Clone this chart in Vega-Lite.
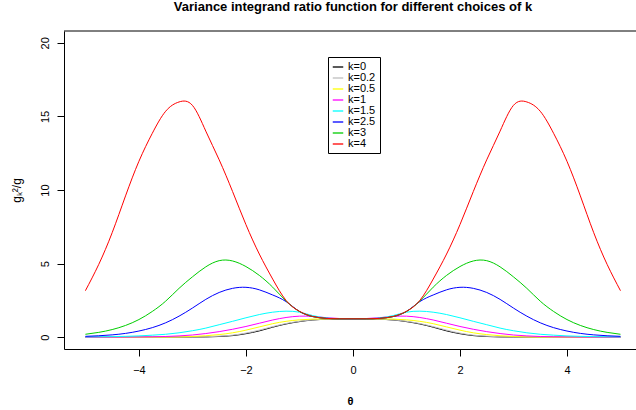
{
"$schema": "https://vega.github.io/schema/vega-lite/v6.json",
"width": 572, "height": 318,
"autosize": {"type": "none"},
"padding": {"left": 64, "top": 31, "right": 0, "bottom": 61},
"background": "white",
"config": {"font": "Liberation Sans", "view": {"stroke": null}},
"title": {"text": "Variance integrand ratio function for different choices of k", "fontSize": 13, "fontWeight": "bold", "anchor": "middle", "offset": 17, "dx": 3, "color": "black"},
"datasets": {"curves": [
{"k":"k=0","t":-5,"v":0},{"k":"k=0","t":-4.75,"v":0},{"k":"k=0","t":-4.5,"v":0},{"k":"k=0","t":-4.25,"v":0},{"k":"k=0","t":-4,"v":0},{"k":"k=0","t":-3.75,"v":0},{"k":"k=0","t":-3.5,"v":0},{"k":"k=0","t":-3.25,"v":0.003},{"k":"k=0","t":-3,"v":0.01},{"k":"k=0","t":-2.75,"v":0.02},{"k":"k=0","t":-2.5,"v":0.05},{"k":"k=0","t":-2.25,"v":0.11},{"k":"k=0","t":-2,"v":0.24},{"k":"k=0","t":-1.75,"v":0.43},{"k":"k=0","t":-1.5,"v":0.68},{"k":"k=0","t":-1.25,"v":0.9},{"k":"k=0","t":-1,"v":1.06},{"k":"k=0","t":-0.75,"v":1.17},{"k":"k=0","t":-0.5,"v":1.22},{"k":"k=0","t":-0.25,"v":1.245},{"k":"k=0","t":0,"v":1.25},{"k":"k=0","t":0.25,"v":1.245},{"k":"k=0","t":0.5,"v":1.22},{"k":"k=0","t":0.75,"v":1.17},{"k":"k=0","t":1,"v":1.06},{"k":"k=0","t":1.25,"v":0.9},{"k":"k=0","t":1.5,"v":0.68},{"k":"k=0","t":1.75,"v":0.43},{"k":"k=0","t":2,"v":0.24},{"k":"k=0","t":2.25,"v":0.11},{"k":"k=0","t":2.5,"v":0.05},{"k":"k=0","t":2.75,"v":0.02},{"k":"k=0","t":3,"v":0.01},{"k":"k=0","t":3.25,"v":0.003},{"k":"k=0","t":3.5,"v":0},{"k":"k=0","t":3.75,"v":0},{"k":"k=0","t":4,"v":0},{"k":"k=0","t":4.25,"v":0},{"k":"k=0","t":4.5,"v":0},{"k":"k=0","t":4.75,"v":0},{"k":"k=0","t":5,"v":0},
{"k":"k=0.2","t":-5,"v":0},{"k":"k=0.2","t":-4.75,"v":0},{"k":"k=0.2","t":-4.5,"v":0},{"k":"k=0.2","t":-4.25,"v":0},{"k":"k=0.2","t":-4,"v":0},{"k":"k=0.2","t":-3.75,"v":0},{"k":"k=0.2","t":-3.5,"v":0.002},{"k":"k=0.2","t":-3.25,"v":0.005},{"k":"k=0.2","t":-3,"v":0.012},{"k":"k=0.2","t":-2.75,"v":0.03},{"k":"k=0.2","t":-2.5,"v":0.07},{"k":"k=0.2","t":-2.25,"v":0.14},{"k":"k=0.2","t":-2,"v":0.28},{"k":"k=0.2","t":-1.75,"v":0.48},{"k":"k=0.2","t":-1.5,"v":0.72},{"k":"k=0.2","t":-1.25,"v":0.93},{"k":"k=0.2","t":-1,"v":1.08},{"k":"k=0.2","t":-0.75,"v":1.18},{"k":"k=0.2","t":-0.5,"v":1.23},{"k":"k=0.2","t":-0.25,"v":1.248},{"k":"k=0.2","t":0,"v":1.25},{"k":"k=0.2","t":0.25,"v":1.248},{"k":"k=0.2","t":0.5,"v":1.23},{"k":"k=0.2","t":0.75,"v":1.18},{"k":"k=0.2","t":1,"v":1.08},{"k":"k=0.2","t":1.25,"v":0.93},{"k":"k=0.2","t":1.5,"v":0.72},{"k":"k=0.2","t":1.75,"v":0.48},{"k":"k=0.2","t":2,"v":0.28},{"k":"k=0.2","t":2.25,"v":0.14},{"k":"k=0.2","t":2.5,"v":0.07},{"k":"k=0.2","t":2.75,"v":0.03},{"k":"k=0.2","t":3,"v":0.012},{"k":"k=0.2","t":3.25,"v":0.005},{"k":"k=0.2","t":3.5,"v":0.002},{"k":"k=0.2","t":3.75,"v":0},{"k":"k=0.2","t":4,"v":0},{"k":"k=0.2","t":4.25,"v":0},{"k":"k=0.2","t":4.5,"v":0},{"k":"k=0.2","t":4.75,"v":0},{"k":"k=0.2","t":5,"v":0},
{"k":"k=0.5","t":-5,"v":0},{"k":"k=0.5","t":-4.75,"v":0},{"k":"k=0.5","t":-4.5,"v":0},{"k":"k=0.5","t":-4.25,"v":0.001},{"k":"k=0.5","t":-4,"v":0.002},{"k":"k=0.5","t":-3.75,"v":0.005},{"k":"k=0.5","t":-3.5,"v":0.01},{"k":"k=0.5","t":-3.25,"v":0.02},{"k":"k=0.5","t":-3,"v":0.05},{"k":"k=0.5","t":-2.75,"v":0.1},{"k":"k=0.5","t":-2.5,"v":0.18},{"k":"k=0.5","t":-2.25,"v":0.3},{"k":"k=0.5","t":-2,"v":0.48},{"k":"k=0.5","t":-1.75,"v":0.7},{"k":"k=0.5","t":-1.5,"v":0.92},{"k":"k=0.5","t":-1.25,"v":1.08},{"k":"k=0.5","t":-1,"v":1.18},{"k":"k=0.5","t":-0.75,"v":1.23},{"k":"k=0.5","t":-0.5,"v":1.25},{"k":"k=0.5","t":-0.25,"v":1.25},{"k":"k=0.5","t":0,"v":1.25},{"k":"k=0.5","t":0.25,"v":1.25},{"k":"k=0.5","t":0.5,"v":1.25},{"k":"k=0.5","t":0.75,"v":1.23},{"k":"k=0.5","t":1,"v":1.18},{"k":"k=0.5","t":1.25,"v":1.08},{"k":"k=0.5","t":1.5,"v":0.92},{"k":"k=0.5","t":1.75,"v":0.7},{"k":"k=0.5","t":2,"v":0.48},{"k":"k=0.5","t":2.25,"v":0.3},{"k":"k=0.5","t":2.5,"v":0.18},{"k":"k=0.5","t":2.75,"v":0.1},{"k":"k=0.5","t":3,"v":0.05},{"k":"k=0.5","t":3.25,"v":0.02},{"k":"k=0.5","t":3.5,"v":0.01},{"k":"k=0.5","t":3.75,"v":0.005},{"k":"k=0.5","t":4,"v":0.002},{"k":"k=0.5","t":4.25,"v":0.001},{"k":"k=0.5","t":4.5,"v":0},{"k":"k=0.5","t":4.75,"v":0},{"k":"k=0.5","t":5,"v":0},
{"k":"k=1","t":-5,"v":0.002},{"k":"k=1","t":-4.75,"v":0.004},{"k":"k=1","t":-4.5,"v":0.007},{"k":"k=1","t":-4.25,"v":0.012},{"k":"k=1","t":-4,"v":0.02},{"k":"k=1","t":-3.75,"v":0.03},{"k":"k=1","t":-3.5,"v":0.05},{"k":"k=1","t":-3.25,"v":0.09},{"k":"k=1","t":-3,"v":0.15},{"k":"k=1","t":-2.75,"v":0.25},{"k":"k=1","t":-2.5,"v":0.38},{"k":"k=1","t":-2.25,"v":0.54},{"k":"k=1","t":-2,"v":0.73},{"k":"k=1","t":-1.75,"v":0.95},{"k":"k=1","t":-1.5,"v":1.17},{"k":"k=1","t":-1.25,"v":1.34},{"k":"k=1","t":-1,"v":1.43},{"k":"k=1","t":-0.75,"v":1.41},{"k":"k=1","t":-0.5,"v":1.33},{"k":"k=1","t":-0.25,"v":1.27},{"k":"k=1","t":0,"v":1.25},{"k":"k=1","t":0.25,"v":1.27},{"k":"k=1","t":0.5,"v":1.33},{"k":"k=1","t":0.75,"v":1.41},{"k":"k=1","t":1,"v":1.43},{"k":"k=1","t":1.25,"v":1.34},{"k":"k=1","t":1.5,"v":1.17},{"k":"k=1","t":1.75,"v":0.95},{"k":"k=1","t":2,"v":0.73},{"k":"k=1","t":2.25,"v":0.54},{"k":"k=1","t":2.5,"v":0.38},{"k":"k=1","t":2.75,"v":0.25},{"k":"k=1","t":3,"v":0.15},{"k":"k=1","t":3.25,"v":0.09},{"k":"k=1","t":3.5,"v":0.05},{"k":"k=1","t":3.75,"v":0.03},{"k":"k=1","t":4,"v":0.02},{"k":"k=1","t":4.25,"v":0.012},{"k":"k=1","t":4.5,"v":0.007},{"k":"k=1","t":4.75,"v":0.004},{"k":"k=1","t":5,"v":0.002},
{"k":"k=1.5","t":-5,"v":0.02},{"k":"k=1.5","t":-4.75,"v":0.03},{"k":"k=1.5","t":-4.5,"v":0.04},{"k":"k=1.5","t":-4.25,"v":0.06},{"k":"k=1.5","t":-4,"v":0.09},{"k":"k=1.5","t":-3.75,"v":0.14},{"k":"k=1.5","t":-3.5,"v":0.2},{"k":"k=1.5","t":-3.25,"v":0.3},{"k":"k=1.5","t":-3,"v":0.44},{"k":"k=1.5","t":-2.75,"v":0.62},{"k":"k=1.5","t":-2.5,"v":0.85},{"k":"k=1.5","t":-2.25,"v":1.08},{"k":"k=1.5","t":-2,"v":1.32},{"k":"k=1.5","t":-1.75,"v":1.54},{"k":"k=1.5","t":-1.5,"v":1.7},{"k":"k=1.5","t":-1.25,"v":1.77},{"k":"k=1.5","t":-1,"v":1.7},{"k":"k=1.5","t":-0.75,"v":1.47},{"k":"k=1.5","t":-0.5,"v":1.31},{"k":"k=1.5","t":-0.25,"v":1.26},{"k":"k=1.5","t":0,"v":1.25},{"k":"k=1.5","t":0.25,"v":1.26},{"k":"k=1.5","t":0.5,"v":1.31},{"k":"k=1.5","t":0.75,"v":1.47},{"k":"k=1.5","t":1,"v":1.7},{"k":"k=1.5","t":1.25,"v":1.77},{"k":"k=1.5","t":1.5,"v":1.7},{"k":"k=1.5","t":1.75,"v":1.54},{"k":"k=1.5","t":2,"v":1.32},{"k":"k=1.5","t":2.25,"v":1.08},{"k":"k=1.5","t":2.5,"v":0.85},{"k":"k=1.5","t":2.75,"v":0.62},{"k":"k=1.5","t":3,"v":0.44},{"k":"k=1.5","t":3.25,"v":0.3},{"k":"k=1.5","t":3.5,"v":0.2},{"k":"k=1.5","t":3.75,"v":0.14},{"k":"k=1.5","t":4,"v":0.09},{"k":"k=1.5","t":4.25,"v":0.06},{"k":"k=1.5","t":4.5,"v":0.04},{"k":"k=1.5","t":4.75,"v":0.03},{"k":"k=1.5","t":5,"v":0.02},
{"k":"k=2.5","t":-5,"v":0.06},{"k":"k=2.5","t":-4.75,"v":0.1},{"k":"k=2.5","t":-4.5,"v":0.16},{"k":"k=2.5","t":-4.25,"v":0.26},{"k":"k=2.5","t":-4,"v":0.42},{"k":"k=2.5","t":-3.75,"v":0.65},{"k":"k=2.5","t":-3.5,"v":0.98},{"k":"k=2.5","t":-3.25,"v":1.43},{"k":"k=2.5","t":-3,"v":1.98},{"k":"k=2.5","t":-2.75,"v":2.57},{"k":"k=2.5","t":-2.5,"v":3.04},{"k":"k=2.5","t":-2.25,"v":3.32},{"k":"k=2.5","t":-2,"v":3.39},{"k":"k=2.5","t":-1.75,"v":3.22},{"k":"k=2.5","t":-1.5,"v":2.87},{"k":"k=2.5","t":-1.25,"v":2.42},{"k":"k=2.5","t":-1,"v":1.75},{"k":"k=2.5","t":-0.75,"v":1.4},{"k":"k=2.5","t":-0.5,"v":1.28},{"k":"k=2.5","t":-0.25,"v":1.25},{"k":"k=2.5","t":0,"v":1.25},{"k":"k=2.5","t":0.25,"v":1.25},{"k":"k=2.5","t":0.5,"v":1.28},{"k":"k=2.5","t":0.75,"v":1.4},{"k":"k=2.5","t":1,"v":1.75},{"k":"k=2.5","t":1.25,"v":2.42},{"k":"k=2.5","t":1.5,"v":2.87},{"k":"k=2.5","t":1.75,"v":3.22},{"k":"k=2.5","t":2,"v":3.39},{"k":"k=2.5","t":2.25,"v":3.32},{"k":"k=2.5","t":2.5,"v":3.04},{"k":"k=2.5","t":2.75,"v":2.57},{"k":"k=2.5","t":3,"v":1.98},{"k":"k=2.5","t":3.25,"v":1.43},{"k":"k=2.5","t":3.5,"v":0.98},{"k":"k=2.5","t":3.75,"v":0.65},{"k":"k=2.5","t":4,"v":0.42},{"k":"k=2.5","t":4.25,"v":0.26},{"k":"k=2.5","t":4.5,"v":0.16},{"k":"k=2.5","t":4.75,"v":0.1},{"k":"k=2.5","t":5,"v":0.06},
{"k":"k=3","t":-5,"v":0.2},{"k":"k=3","t":-4.75,"v":0.33},{"k":"k=3","t":-4.5,"v":0.52},{"k":"k=3","t":-4.25,"v":0.8},{"k":"k=3","t":-4,"v":1.2},{"k":"k=3","t":-3.75,"v":1.75},{"k":"k=3","t":-3.5,"v":2.45},{"k":"k=3","t":-3.25,"v":3.32},{"k":"k=3","t":-3,"v":4.1},{"k":"k=3","t":-2.75,"v":4.78},{"k":"k=3","t":-2.5,"v":5.2},{"k":"k=3","t":-2.25,"v":5.18},{"k":"k=3","t":-2,"v":4.8},{"k":"k=3","t":-1.75,"v":4.2},{"k":"k=3","t":-1.5,"v":3.4},{"k":"k=3","t":-1.25,"v":2.46},{"k":"k=3","t":-1,"v":1.75},{"k":"k=3","t":-0.75,"v":1.4},{"k":"k=3","t":-0.5,"v":1.28},{"k":"k=3","t":-0.25,"v":1.25},{"k":"k=3","t":0,"v":1.25},{"k":"k=3","t":0.25,"v":1.25},{"k":"k=3","t":0.5,"v":1.28},{"k":"k=3","t":0.75,"v":1.4},{"k":"k=3","t":1,"v":1.75},{"k":"k=3","t":1.25,"v":2.46},{"k":"k=3","t":1.5,"v":3.4},{"k":"k=3","t":1.75,"v":4.2},{"k":"k=3","t":2,"v":4.8},{"k":"k=3","t":2.25,"v":5.18},{"k":"k=3","t":2.5,"v":5.2},{"k":"k=3","t":2.75,"v":4.78},{"k":"k=3","t":3,"v":4.1},{"k":"k=3","t":3.25,"v":3.32},{"k":"k=3","t":3.5,"v":2.45},{"k":"k=3","t":3.75,"v":1.75},{"k":"k=3","t":4,"v":1.2},{"k":"k=3","t":4.25,"v":0.8},{"k":"k=3","t":4.5,"v":0.52},{"k":"k=3","t":4.75,"v":0.33},{"k":"k=3","t":5,"v":0.2},
{"k":"k=4","t":-5,"v":3.16},{"k":"k=4","t":-4.75,"v":4.95},{"k":"k=4","t":-4.5,"v":7.1},{"k":"k=4","t":-4.25,"v":9.6},{"k":"k=4","t":-4,"v":11.95},{"k":"k=4","t":-3.75,"v":13.85},{"k":"k=4","t":-3.5,"v":15.35},{"k":"k=4","t":-3.25,"v":15.98},{"k":"k=4","t":-3,"v":15.75},{"k":"k=4","t":-2.75,"v":14.0},{"k":"k=4","t":-2.5,"v":12.05},{"k":"k=4","t":-2.25,"v":9.9},{"k":"k=4","t":-2,"v":7.65},{"k":"k=4","t":-1.75,"v":5.65},{"k":"k=4","t":-1.5,"v":3.95},{"k":"k=4","t":-1.25,"v":2.5},{"k":"k=4","t":-1,"v":1.76},{"k":"k=4","t":-0.75,"v":1.41},{"k":"k=4","t":-0.5,"v":1.28},{"k":"k=4","t":-0.25,"v":1.25},{"k":"k=4","t":0,"v":1.25},{"k":"k=4","t":0.25,"v":1.25},{"k":"k=4","t":0.5,"v":1.28},{"k":"k=4","t":0.75,"v":1.41},{"k":"k=4","t":1,"v":1.76},{"k":"k=4","t":1.25,"v":2.5},{"k":"k=4","t":1.5,"v":3.95},{"k":"k=4","t":1.75,"v":5.65},{"k":"k=4","t":2,"v":7.65},{"k":"k=4","t":2.25,"v":9.9},{"k":"k=4","t":2.5,"v":12.05},{"k":"k=4","t":2.75,"v":14.0},{"k":"k=4","t":3,"v":15.75},{"k":"k=4","t":3.25,"v":15.98},{"k":"k=4","t":3.5,"v":15.35},{"k":"k=4","t":3.75,"v":13.85},{"k":"k=4","t":4,"v":11.95},{"k":"k=4","t":4.25,"v":9.6},{"k":"k=4","t":4.5,"v":7.1},{"k":"k=4","t":4.75,"v":4.95},{"k":"k=4","t":5,"v":3.16}
]},
"layer": [
{"data": {"name": "curves"},
 "mark": {"type": "line", "strokeWidth": 1, "interpolate": "natural", "clip": true},
 "encoding": {
  "x": {"field": "t", "type": "quantitative", "scale": {"domain": [-5.4, 5.29], "nice": false, "zero": false},
        "axis": {"values": [-4, -2, 0, 2, 4], "title": "θ", "titleFontWeight": "bold", "titleFontSize": 11, "titleColor": "black", "titlePadding": 20,
                 "labelFontSize": 11, "labelColor": "black", "labelPadding": 8, "labelFlush": false, "tickSize": 7, "tickColor": "black", "domainColor": "black", "grid": false}},
  "y": {"field": "v", "type": "quantitative", "scale": {"domain": [-0.8, 20.8], "nice": false, "zero": false},
        "axis": {"values": [0, 5, 10, 15, 20], "title": "gₖ²/g", "titleFontWeight": "normal", "titleFontSize": 12, "titleColor": "black", "titlePadding": 16,
                 "labelAngle": -90, "labelAlign": "center", "labelBaseline": "bottom", "labelFontSize": 11, "labelColor": "black", "labelPadding": 7, "labelFlush": false,
                 "tickSize": 7, "tickColor": "black", "domainColor": "black", "grid": false}},
  "color": {"field": "k", "type": "nominal",
            "scale": {"domain": ["k=0", "k=0.2", "k=0.5", "k=1", "k=1.5", "k=2.5", "k=3", "k=4"],
                      "range": ["#000000", "#BEBEBE", "#FFFF00", "#FF00FF", "#00FFFF", "#0000FF", "#00CD00", "#FF0000"]},
            "legend": {"orient": "none", "legendX": 264, "legendY": 26, "title": null, "symbolType": "stroke", "symbolStrokeWidth": 1.3, "symbolSize": 110,
                       "labelFontSize": 11, "labelOffset": 4, "labelColor": "black", "rowPadding": -1.2, "padding": 4, "strokeColor": "black", "fillColor": "white"}}
 }},
{"data": {"values": [{}]}, "mark": {"type": "rule", "color": "black", "strokeWidth": 1}, "encoding": {"y": {"datum": 20.8}}}
]
}
